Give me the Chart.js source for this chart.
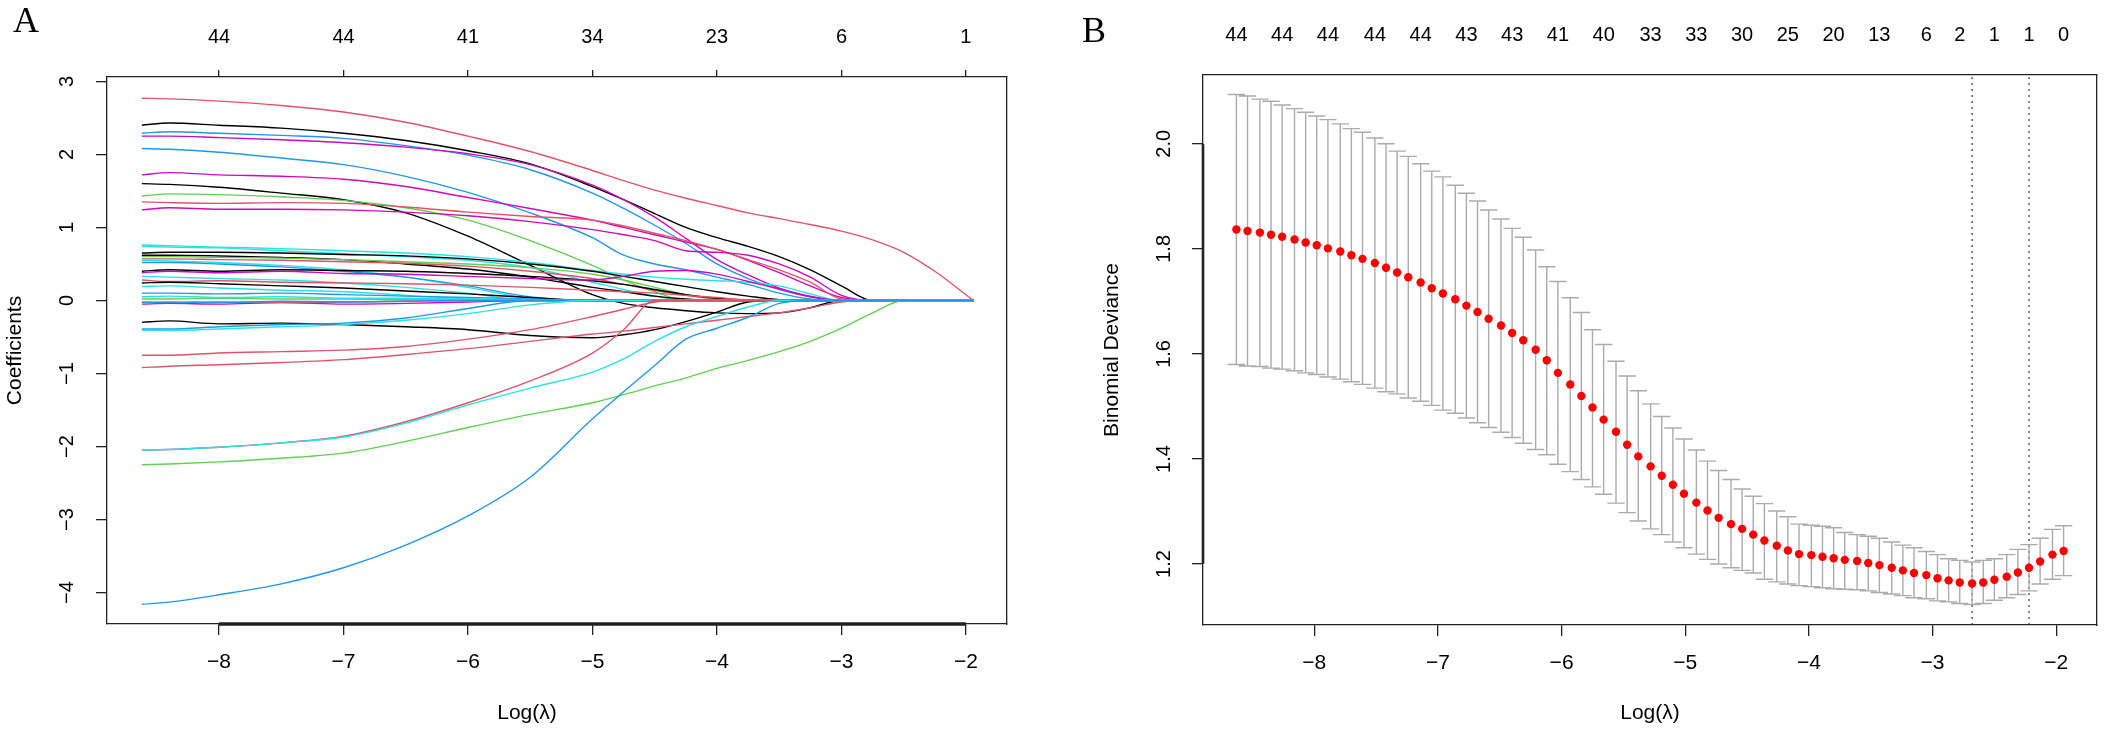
<!DOCTYPE html>
<html>
<head>
<meta charset="utf-8">
<script src="https://cdn.jsdelivr.net/npm/chart.js@4/dist/chart.umd.min.js"></script>
<style>
  html, body { margin: 0; padding: 0; background: #fff; }
  #wrap { position: relative; width: 2107px; height: 730px; overflow: hidden; }
  canvas { position: absolute; top: 0; }
  .tag { position: absolute; font-family: 'Liberation Serif', 'Times New Roman', serif; font-size: 36px; line-height: 1; color: #000; }
</style>
</head>
<body>
<div id="wrap">
  <canvas id="pathChart" width="1053" height="730" style="left:0"></canvas>
  <canvas id="cvChart" width="1054" height="730" style="left:1053px"></canvas>
  <div class="tag" style="left:13px;top:2px">A</div>
  <div class="tag" style="left:1082px;top:12px">B</div>
</div>
<script>
// ---- panel A: coefficient paths ----
const pathLambda = [-8.62, -8.4, -8.0, -7.5, -7.0, -6.5, -6.0, -5.5, -5.0, -4.75, -4.5, -4.25, -4.0, -3.75, -3.5, -3.25, -3.0, -2.75, -2.5, -2.25, -1.94];
const pathXTicks = [-8, -7, -6, -5, -4, -3, -2];
const pathNonzero = ['44', '44', '41', '34', '23', '6', '1'];
const pathYTicks = [-4, -3, -2, -1, 0, 1, 2, 3];

const path01 = [2.77, 2.76, 2.73, 2.67, 2.58, 2.44, 2.25, 2.04, 1.78, 1.64, 1.51, 1.40, 1.30, 1.20, 1.12, 1.04, 0.95, 0.83, 0.66, 0.40, 0];
const path02 = [2.40, 2.43, 2.40, 2.36, 2.29, 2.19, 2.05, 1.87, 1.56, 1.38, 1.19, 1.00, 0.86, 0.74, 0.60, 0.42, 0.20, 0, 0, 0, 0];
const path03 = [2.29, 2.31, 2.29, 2.26, 2.22, 2.12, 1.99, 1.79, 1.47, 1.26, 1.03, 0.78, 0.50, 0.30, 0.15, 0.05, 0, 0, 0, 0, 0];
const path04 = [2.25, 2.25, 2.23, 2.20, 2.16, 2.10, 2.01, 1.86, 1.58, 1.38, 1.14, 0.85, 0.56, 0.35, 0.17, 0.05, 0, 0, 0, 0, 0];
const path05 = [2.08, 2.07, 2.03, 1.95, 1.86, 1.70, 1.48, 1.20, 0.86, 0.62, 0.50, 0.42, 0.32, 0.22, 0.10, 0.02, 0, 0, 0, 0, 0];
const path06 = [1.72, 1.75, 1.72, 1.70, 1.66, 1.56, 1.41, 1.26, 1.10, 1.00, 0.90, 0.80, 0.70, 0.55, 0.38, 0.20, 0.04, 0, 0, 0, 0];
const path07 = [1.60, 1.59, 1.55, 1.47, 1.38, 1.20, 0.88, 0.48, 0.08, -0.04, -0.10, -0.14, -0.17, -0.18, -0.17, -0.10, 0, 0, 0, 0, 0];
const path08 = [1.43, 1.46, 1.45, 1.42, 1.37, 1.27, 1.10, 0.82, 0.48, 0.28, 0.12, 0, 0, 0, 0, 0, 0, 0, 0, 0, 0];
const path09 = [1.35, 1.34, 1.33, 1.34, 1.33, 1.28, 1.21, 1.15, 1.10, 1.02, 0.92, 0.82, 0.70, 0.56, 0.42, 0.25, 0.02, 0, 0, 0, 0];
const path10 = [1.24, 1.27, 1.25, 1.25, 1.24, 1.21, 1.16, 1.08, 0.97, 0.90, 0.82, 0.68, 0.66, 0.62, 0.50, 0.32, 0.07, 0, 0, 0, 0];
const path11 = [0.76, 0.75, 0.73, 0.71, 0.68, 0.65, 0.60, 0.52, 0.41, 0.36, 0.32, 0.29, 0.27, 0.25, 0.20, 0.09, 0, 0, 0, 0, 0];
const path12 = [0.74, 0.73, 0.72, 0.68, 0.64, 0.60, 0.55, 0.45, 0.25, 0.15, 0.06, 0, 0, 0, 0, 0, 0, 0, 0, 0, 0];
const path13 = [0.65, 0.66, 0.66, 0.65, 0.63, 0.61, 0.57, 0.50, 0.40, 0.33, 0.26, 0.19, 0.12, 0.06, 0.01, 0, 0, 0, 0, 0, 0];
const path14 = [0.62, 0.62, 0.61, 0.59, 0.56, 0.50, 0.43, 0.32, 0.18, 0.12, 0.06, 0.02, 0, 0, 0, 0, 0, 0, 0, 0, 0];
const path15 = [0.60, 0.60, 0.59, 0.58, 0.56, 0.53, 0.50, 0.45, 0.36, 0.28, 0.18, 0.08, 0.02, 0, 0, 0, 0, 0, 0, 0, 0];
const path16 = [0.57, 0.57, 0.56, 0.55, 0.53, 0.51, 0.47, 0.40, 0.30, 0.22, 0.14, 0.07, 0.02, 0, 0, 0, 0, 0, 0, 0, 0];
const path17 = [0.55, 0.54, 0.52, 0.48, 0.42, 0.32, 0.18, 0.03, 0, 0, 0, 0, 0, 0, 0, 0, 0, 0, 0, 0, 0];
const path18 = [0.52, 0.52, 0.50, 0.46, 0.40, 0.32, 0.20, 0.05, 0, 0, 0, 0, 0, 0, 0, 0, 0, 0, 0, 0, 0];
const path19 = [0.40, 0.42, 0.40, 0.42, 0.41, 0.40, 0.37, 0.33, 0.27, 0.22, 0.15, 0.08, 0.03, 0, 0, 0, 0, 0, 0, 0, 0];
const path20 = [0.38, 0.40, 0.38, 0.40, 0.37, 0.36, 0.33, 0.30, 0.28, 0.33, 0.40, 0.41, 0.36, 0.26, 0.16, 0.06, 0, 0, 0, 0, 0];
const path21 = [0.33, 0.32, 0.30, 0.28, 0.24, 0.18, 0.10, 0, 0, 0, 0, 0, 0, 0, 0, 0, 0, 0, 0, 0, 0];
const path22 = [0.28, 0.26, 0.27, 0.25, 0.24, 0.23, 0.21, 0.18, 0.14, 0.12, 0.10, 0.07, 0.04, 0.01, 0, 0, 0, 0, 0, 0, 0];
const path23 = [0.24, 0.25, 0.23, 0.20, 0.17, 0.13, 0.09, 0.04, 0, 0, 0, 0, 0, 0, 0, 0, 0, 0, 0, 0, 0];
const path24 = [0.19, 0.20, 0.17, 0.14, 0.12, 0.07, 0.02, 0, 0, 0, 0, 0, 0, 0, 0, 0, 0, 0, 0, 0, 0];
const path25 = [0.10, 0.10, 0.09, 0.10, 0.08, 0.06, 0.04, 0.02, 0, 0, 0, 0, 0, 0, 0, 0, 0, 0, 0, 0, 0];
const path26 = [0.02, 0.02, 0.03, 0.02, 0.02, 0.01, 0.01, 0, 0, 0, 0, 0, 0, 0, 0, 0, 0, 0, 0, 0, 0];
const path27 = [-0.05, -0.04, -0.05, -0.03, -0.05, -0.04, -0.02, 0, 0, 0, 0, 0, 0, 0, 0, 0, 0, 0, 0, 0, 0];
const path28 = [0.05, 0.06, 0.04, 0.05, 0.03, 0.03, 0.02, 0.01, 0, 0, 0, 0, 0, 0, 0, 0, 0, 0, 0, 0, 0];
const path29 = [-0.02, -0.03, -0.02, -0.03, -0.02, -0.01, 0, 0, 0, 0, 0, 0, 0, 0, 0, 0, 0, 0, 0, 0, 0];
const path30 = [-0.03, -0.02, -0.03, -0.01, -0.02, -0.01, 0, 0, 0, 0, 0, 0, 0, 0, 0, 0, 0, 0, 0, 0, 0];
const path31 = [-0.30, -0.28, -0.32, -0.31, -0.33, -0.36, -0.40, -0.48, -0.51, -0.47, -0.40, -0.29, -0.16, -0.02, 0, 0, 0, 0, 0, 0, 0];
const path32 = [-0.39, -0.39, -0.36, -0.33, -0.31, -0.24, -0.11, 0, 0, 0, 0, 0, 0, 0, 0, 0, 0, 0, 0, 0, 0];
const path33 = [-0.41, -0.41, -0.39, -0.36, -0.33, -0.27, -0.18, -0.06, 0, 0, 0, 0, 0, 0, 0, 0, 0, 0, 0, 0, 0];
const path34 = [-0.75, -0.75, -0.72, -0.70, -0.68, -0.63, -0.53, -0.40, -0.22, -0.12, -0.02, 0, 0, 0, 0, 0, 0, 0, 0, 0, 0];
const path35 = [-0.92, -0.90, -0.88, -0.85, -0.81, -0.74, -0.66, -0.56, -0.46, -0.42, -0.37, -0.32, -0.27, -0.22, -0.17, -0.10, -0.02, 0, 0, 0, 0];
const path36 = [-2.05, -2.04, -2.01, -1.95, -1.86, -1.66, -1.40, -1.10, -0.72, -0.40, 0, 0, 0, 0, 0, 0, 0, 0, 0, 0, 0];
const path37 = [-2.05, -2.04, -2.01, -1.95, -1.87, -1.68, -1.43, -1.20, -0.98, -0.80, -0.56, -0.36, -0.22, -0.09, 0, 0, 0, 0, 0, 0, 0];
const path38 = [-2.25, -2.24, -2.21, -2.16, -2.09, -1.93, -1.74, -1.56, -1.40, -1.29, -1.17, -1.06, -0.93, -0.82, -0.70, -0.56, -0.38, -0.17, 0, 0, 0];
const path39 = [-4.16, -4.13, -4.03, -3.88, -3.66, -3.35, -2.95, -2.42, -1.62, -1.25, -0.89, -0.53, -0.38, -0.23, -0.04, 0, 0, 0, 0, 0, 0];

const coefPaths = [path01, path02, path03, path04, path05, path06, path07, path08, path09, path10,
  path11, path12, path13, path14, path15, path16, path17, path18, path19, path20,
  path21, path22, path23, path24, path25, path26, path27, path28, path29, path30,
  path31, path32, path33, path34, path35, path36, path37, path38, path39];

// R default palette colours used by matplot
const R_BLACK = '#000000', R_PINK = '#DF536B', R_GREEN = '#61D04F', R_BLUE = '#2297E6', R_CYAN = '#28E2E5', R_MAGENTA = '#CD0BBC';
const pathColors = [R_PINK, R_BLACK, R_BLUE, R_MAGENTA, R_BLUE, R_MAGENTA, R_BLACK, R_GREEN, R_PINK, R_MAGENTA,
  R_CYAN, R_CYAN, R_BLACK, R_BLACK, R_GREEN, R_PINK, R_CYAN, R_BLUE, R_BLACK, R_MAGENTA,
  R_CYAN, R_PINK, R_BLACK, R_CYAN, R_BLUE, R_GREEN, R_MAGENTA, R_CYAN, R_PINK, R_BLUE,
  R_BLACK, R_BLUE, R_CYAN, R_PINK, R_PINK, R_PINK, R_CYAN, R_GREEN, R_BLUE];

// ---- panel B: cross-validated binomial deviance ----
const cvLambda = [-8.63, -8.54, -8.44, -8.35, -8.26, -8.16, -8.07, -7.98, -7.89, -7.79,
  -7.70, -7.61, -7.51, -7.42, -7.33, -7.24, -7.14, -7.05, -6.96, -6.86,
  -6.77, -6.68, -6.59, -6.49, -6.40, -6.31, -6.21, -6.12, -6.03, -5.93,
  -5.84, -5.75, -5.66, -5.56, -5.47, -5.38, -5.28, -5.19, -5.10, -5.01,
  -4.91, -4.82, -4.73, -4.63, -4.54, -4.45, -4.36, -4.26, -4.17, -4.08,
  -3.98, -3.89, -3.80, -3.71, -3.61, -3.52, -3.43, -3.33, -3.24, -3.15,
  -3.05, -2.96, -2.87, -2.78, -2.68, -2.59, -2.50, -2.40, -2.31, -2.22,
  -2.13, -2.03, -1.94];
const cvMean = [1.837, 1.834, 1.831, 1.827, 1.823, 1.818, 1.812, 1.807, 1.801, 1.795,
  1.788, 1.781, 1.773, 1.764, 1.755, 1.746, 1.736, 1.725, 1.715, 1.704,
  1.692, 1.680, 1.667, 1.654, 1.640, 1.626, 1.608, 1.588, 1.564, 1.542,
  1.520, 1.498, 1.475, 1.452, 1.427, 1.405, 1.386, 1.368, 1.351, 1.334,
  1.317, 1.302, 1.288, 1.276, 1.267, 1.256, 1.245, 1.235, 1.226, 1.219,
  1.217, 1.214, 1.211, 1.208, 1.206, 1.202, 1.198, 1.193, 1.188, 1.183,
  1.179, 1.173, 1.169, 1.165, 1.163, 1.165, 1.170, 1.176, 1.184, 1.193,
  1.205, 1.218, 1.225];
const cvUpper = [2.094, 2.091, 2.085, 2.081, 2.074, 2.067, 2.060, 2.053, 2.046, 2.038,
  2.029, 2.022, 2.011, 2.000, 1.986, 1.976, 1.962, 1.948, 1.937, 1.921,
  1.906, 1.891, 1.874, 1.857, 1.839, 1.822, 1.798, 1.766, 1.738, 1.707,
  1.679, 1.646, 1.618, 1.586, 1.558, 1.530, 1.505, 1.481, 1.459, 1.438,
  1.417, 1.396, 1.378, 1.361, 1.343, 1.329, 1.315, 1.301, 1.290, 1.276,
  1.274, 1.272, 1.269, 1.260, 1.256, 1.253, 1.249, 1.242, 1.236, 1.231,
  1.224, 1.218, 1.210, 1.207, 1.204, 1.207, 1.210, 1.218, 1.228, 1.237,
  1.249, 1.266, 1.273];
const cvLower = [1.580, 1.577, 1.576, 1.573, 1.571, 1.568, 1.564, 1.561, 1.556, 1.552,
  1.547, 1.542, 1.535, 1.528, 1.524, 1.516, 1.510, 1.502, 1.493, 1.487,
  1.478, 1.469, 1.460, 1.451, 1.441, 1.430, 1.418, 1.408, 1.390, 1.376,
  1.361, 1.347, 1.333, 1.316, 1.298, 1.282, 1.267, 1.256, 1.242, 1.231,
  1.219, 1.209, 1.200, 1.193, 1.188, 1.183, 1.171, 1.166, 1.162, 1.159,
  1.157, 1.155, 1.153, 1.152, 1.151, 1.149, 1.146, 1.143, 1.140, 1.136,
  1.134, 1.130, 1.128, 1.125, 1.123, 1.125, 1.131, 1.136, 1.142, 1.149,
  1.162, 1.171, 1.178];
const cvTopAt = [-8.63, -8.26, -7.89, -7.51, -7.14, -6.77, -6.40, -6.03, -5.66, -5.28,
  -4.91, -4.54, -4.17, -3.80, -3.43, -3.05, -2.78, -2.50, -2.22, -1.94];
const cvNonzero = ['44', '44', '44', '44', '44', '43', '43', '41', '40', '33',
  '33', '30', '25', '20', '13', '6', '2', '1', '1', '0'];
const cvXTicks = [-8, -7, -6, -5, -4, -3, -2];
const cvYTicks = [1.2, 1.4, 1.6, 1.8, 2.0];
const lambdaMin = -2.68;
const lambda1se = -2.22;

// ---- shared look ----
Chart.defaults.font.family = "'Liberation Sans', Arial, sans-serif";
Chart.defaults.color = '#000';
Chart.defaults.animation = false;

const AX = '#222';
const X_MIN = -8.90, X_MAX = -1.67;
const FONT = "20px 'Liberation Sans', Arial, sans-serif";

const minusFmt = v => (v < 0 ? '\u2212' : '') + Math.abs(v);
const fixedTicks = values => scale => { scale.ticks = values.map(v => ({ value: v })); };

// R draws y tick labels parallel to the axis
function rotatedYLabels(id, xPos, fmt) {
  return {
    id: id,
    afterDraw(chart) {
      const s = chart.scales.y, ctx = chart.ctx;
      ctx.save();
      ctx.font = FONT;
      ctx.fillStyle = '#000';
      ctx.textAlign = 'center';
      ctx.textBaseline = 'middle';
      s.ticks.forEach(t => {
        ctx.save();
        ctx.translate(xPos, s.getPixelForValue(t.value));
        ctx.rotate(-Math.PI / 2);
        ctx.fillText(fmt(t.value), 0, 0);
        ctx.restore();
      });
      ctx.restore();
    }
  };
}

// heavier axis line between the first and last tick, like base graphics
function axisSegment(id, axisId, from, to, width) {
  return {
    id: id,
    afterDraw(chart) {
      const s = chart.scales[axisId], a = chart.chartArea, ctx = chart.ctx;
      ctx.save();
      ctx.strokeStyle = AX;
      ctx.lineWidth = width;
      ctx.beginPath();
      if (s.isHorizontal()) {
        ctx.moveTo(s.getPixelForValue(from), a.bottom);
        ctx.lineTo(s.getPixelForValue(to), a.bottom);
      } else {
        ctx.moveTo(a.left, s.getPixelForValue(from));
        ctx.lineTo(a.left, s.getPixelForValue(to));
      }
      ctx.stroke();
      ctx.restore();
    }
  };
}

// x label for panel A sits a little left of the plot centre
const pathXTitle = {
  id: 'pathXTitle',
  afterDraw(chart) {
    const ctx = chart.ctx;
    ctx.save();
    ctx.font = "21px 'Liberation Sans', Arial, sans-serif";
    ctx.fillStyle = '#000';
    ctx.textAlign = 'center';
    ctx.textBaseline = 'middle';
    ctx.fillText('Log(\u03bb)', 527, 713);
    ctx.restore();
  }
};

function baseScales(opts) {
  return {
    x: {
      type: 'linear', position: 'bottom', min: X_MIN, max: X_MAX,
      afterBuildTicks: fixedTicks(opts.xTicks),
      afterFit: s => { s.height = opts.bottom; },
      grid: { drawOnChartArea: false, drawTicks: true, tickLength: 11, color: AX, lineWidth: 1.3 },
      border: { color: AX, width: 1.3 },
      ticks: { font: { size: 21 }, padding: 15, callback: minusFmt, autoSkip: false, maxRotation: 0 },
      title: { display: opts.xTitle, text: 'Log(\u03bb)', font: { size: 21 }, padding: { top: 0, bottom: 4 } }
    },
    xTop: {
      type: 'linear', position: 'top', min: X_MIN, max: X_MAX,
      afterBuildTicks: fixedTicks(opts.topAt),
      afterFit: s => { s.height = opts.top; },
      grid: { drawOnChartArea: false, drawTicks: opts.topTicks, tickLength: 7, color: AX, lineWidth: 1.3 },
      border: { color: AX, width: 1.3 },
      ticks: { font: { size: 20 }, padding: opts.topPad, autoSkip: false, maxRotation: 0,
        callback: (v, i) => opts.topLabels[i] }
    },
    y: {
      type: 'linear', position: 'left', min: opts.yMin, max: opts.yMax,
      afterBuildTicks: fixedTicks(opts.yTicks),
      afterFit: s => { s.width = opts.left; },
      grid: { drawOnChartArea: false, drawTicks: true, tickLength: 11, color: AX, lineWidth: 1.3 },
      border: { color: AX, width: 1.3 },
      ticks: { display: false },
      title: { display: true, text: opts.yTitle, font: { size: 21 }, padding: { top: opts.yTitlePad, bottom: 0 } }
    },
    yRight: {
      type: 'linear', position: 'right',
      afterFit: s => { s.width = 0; },
      grid: { display: false },
      border: { color: AX, width: 1.3 },
      ticks: { display: false }
    }
  };
}

// ---- panel A ----
new Chart(document.getElementById('pathChart'), {
  type: 'line',
  data: {
    datasets: coefPaths.map((p, i) => ({
      data: p.map((v, j) => ({ x: pathLambda[j], y: v })),
      xAxisID: 'x', yAxisID: 'y',
      borderColor: pathColors[i],
      borderWidth: 1.4,
      pointRadius: 0,
      cubicInterpolationMode: 'monotone',
      fill: false
    })).reverse()
  },
  options: {
    responsive: false,
    devicePixelRatio: 1,
    layout: { padding: { left: 0, right: 46, top: 0, bottom: 0 } },
    plugins: { legend: { display: false }, tooltip: { enabled: false } },
    scales: baseScales({
      xTicks: pathXTicks, bottom: 106, xTitle: false,
      topAt: pathXTicks, topLabels: pathNonzero, top: 77, topTicks: true, topPad: 21,
      yMin: -4.43, yMax: 3.06, yTicks: pathYTicks, left: 107,
      yTitle: 'Coefficients', yTitlePad: 3
    })
  },
  plugins: [rotatedYLabels('yLabA', 67, minusFmt), axisSegment('segA', 'x', -8, -2, 3.5), pathXTitle]
});

// ---- panel B ----
const CV_Y_MIN = 1.084, CV_Y_MAX = 2.131;
const CAP = 0.07;
const barPts = [], capPts = [];
cvLambda.forEach((x, i) => {
  barPts.push({ x: x, y: cvLower[i] }, { x: x, y: cvUpper[i] }, { x: x, y: null });
  capPts.push({ x: x - CAP, y: cvUpper[i] }, { x: x + CAP, y: cvUpper[i] }, { x: x + CAP, y: null });
  capPts.push({ x: x - CAP, y: cvLower[i] }, { x: x + CAP, y: cvLower[i] }, { x: x + CAP, y: null });
});

new Chart(document.getElementById('cvChart'), {
  type: 'line',
  data: {
    datasets: [
      {
        data: cvLambda.map((x, i) => ({ x: x, y: cvMean[i] })),
        xAxisID: 'x', yAxisID: 'y',
        showLine: false, pointRadius: 4.2, pointBackgroundColor: '#FF0000', pointBorderWidth: 0
      },
      {
        data: barPts, xAxisID: 'x', yAxisID: 'y',
        borderColor: '#ABABAB', borderWidth: 1.4, pointRadius: 0, spanGaps: false
      },
      {
        data: capPts, xAxisID: 'x', yAxisID: 'y',
        borderColor: '#ABABAB', borderWidth: 1.4, pointRadius: 0, spanGaps: false
      },
      {
        data: [{ x: lambdaMin, y: CV_Y_MIN }, { x: lambdaMin, y: CV_Y_MAX }],
        xAxisID: 'x', yAxisID: 'y',
        borderColor: '#333', borderWidth: 1.2, borderDash: [2, 4], pointRadius: 0
      },
      {
        data: [{ x: lambda1se, y: CV_Y_MIN }, { x: lambda1se, y: CV_Y_MAX }],
        xAxisID: 'x', yAxisID: 'y',
        borderColor: '#333', borderWidth: 1.2, borderDash: [2, 4], pointRadius: 0
      }
    ]
  },
  options: {
    responsive: false,
    devicePixelRatio: 1,
    layout: { padding: { left: 0, right: 10, top: 0, bottom: 0 } },
    plugins: { legend: { display: false }, tooltip: { enabled: false } },
    scales: baseScales({
      xTicks: cvXTicks, bottom: 105, xTitle: true,
      topAt: cvTopAt, topLabels: cvNonzero, top: 75, topTicks: false, topPad: 28,
      yMin: CV_Y_MIN, yMax: CV_Y_MAX, yTicks: cvYTicks, left: 150,
      yTitle: 'Binomial Deviance', yTitlePad: 47
    })
  },
  plugins: [rotatedYLabels('yLabB', 111, v => v.toFixed(1)), axisSegment('segB', 'y', 1.2, 2.0, 2.6)]
});
</script>
</body>
</html>
